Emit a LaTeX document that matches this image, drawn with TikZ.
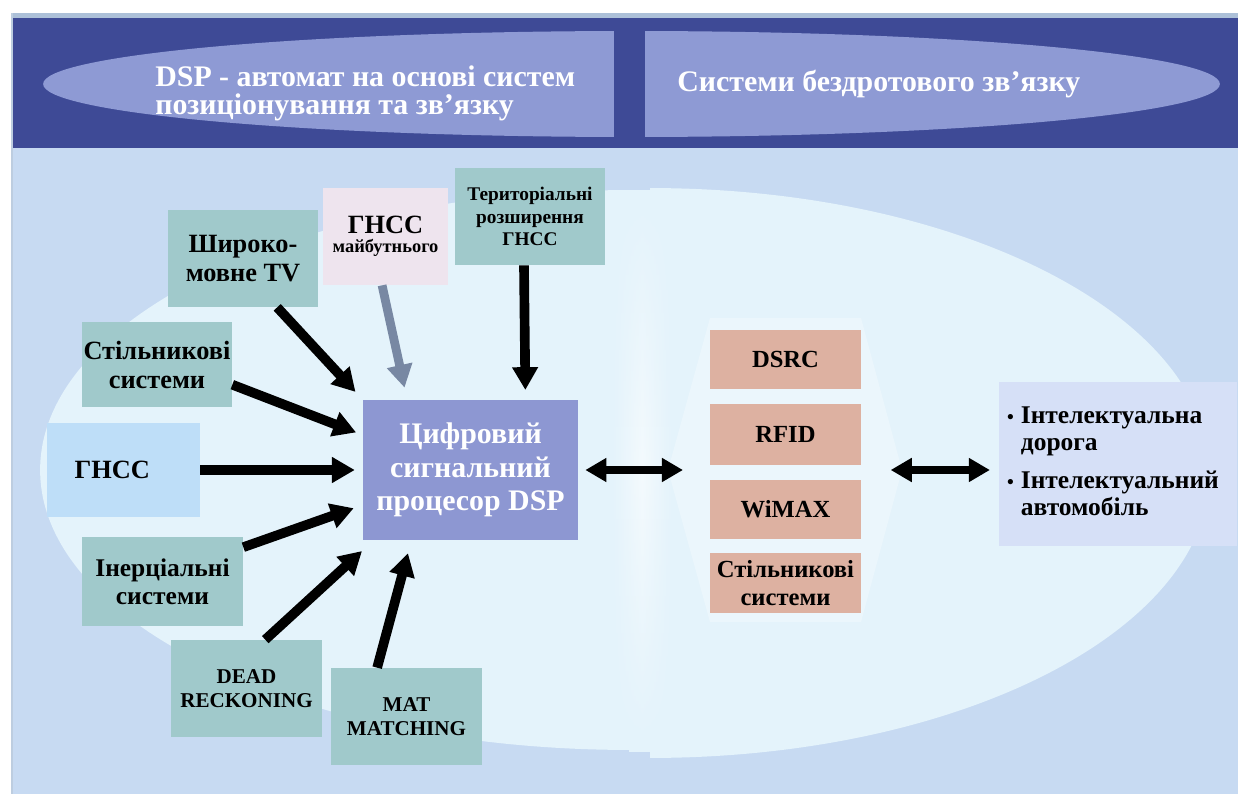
\documentclass[tikz,border=0pt]{standalone}
\usepackage{fontspec}
\setmainfont{Liberation Serif}
\usetikzlibrary{arrows.meta,fit,fadings}

\definecolor{band}{RGB}{62,74,150}
\definecolor{bandoval}{RGB}{142,154,212}
\definecolor{topline}{RGB}{172,192,216}
\definecolor{field}{RGB}{199,218,242}
\definecolor{glow}{RGB}{228,243,251}
\definecolor{tealfill}{RGB}{160,201,203}
\definecolor{pinkfill}{RGB}{238,228,238}
\definecolor{skyfill}{RGB}{190,222,248}
\definecolor{dspfill}{RGB}{141,151,210}
\definecolor{salmonfill}{RGB}{221,177,161}
\definecolor{lilacfill}{RGB}{214,224,247}
\definecolor{greyarrow}{RGB}{120,136,163}

\tikzfading[name=fadeends, top color=transparent!100, bottom color=transparent!100, middle color=transparent!0]

\newcommand\setfs[2]{\fontsize{#1}{#2}\selectfont\bfseries}
\newcommand\apos{\symbol{"02BC}}

\begin{document}
\begin{tikzpicture}[x=0.02cm, y=-0.02cm,
  box/.style={inner sep=0pt, align=center},
  tealnode/.style={box, fill=tealfill, minimum width=3cm, minimum height=1.94cm},
  stacknode/.style={box, fill=salmonfill, minimum width=3.02cm, font=\setfs{14}{15.5}},
  arr/.style={line width=5.5pt, -{Triangle[length=13pt,width=14pt]}},
  dblarr/.style={line width=4.5pt, {Triangle[length=12pt,width=13pt]}-{Triangle[length=12pt,width=13pt]}}
]
\useasboundingbox (0,0) rectangle (1238,794);
\fill[white] (0,0) rectangle (1238,794);

% field and frame
\fill[field] (11,13) rectangle (1238,794);
\fill[topline] (11,13) rectangle (1238,18);
\fill[topline!80!white] (11,13) rectangle (13,794);

% pale glow behind the two halves
\begin{scope}
  \clip (13,150) rectangle (630,794);
  \fill[glow] (630,470) ellipse [x radius=11.8cm, y radius=5.6cm];
\end{scope}
\begin{scope}
  \clip (650,150) rectangle (1238,794);
  \fill[glow] (650,473) ellipse [x radius=11.2cm, y radius=5.7cm];
\end{scope}
\fill[glow] (629,190) rectangle (651,752);
\shade[left color=glow, right color=glow, middle color=white, opacity=0.6, path fading=fadeends] (612,200) rectangle (672,745);
\fill[white, opacity=0.28] (710,318) -- (861,318) -- (902,470) -- (861,622) -- (710,622) -- (668,470) -- cycle;

% header band
\fill[band] (13,18) rectangle (1238,148);
\fill[bandoval] (631.5,84) ellipse [x radius=11.77cm, y radius=1.06cm];
\fill[band] (614,18) rectangle (645,148);
\node[anchor=west, align=left, text=white, inner sep=0pt, font=\setfs{17}{15.8}] (htitle) at (155,93)
  {DSP - автомат на основі систем\\позиціонування та зв\apos язку};
\node[anchor=west, text=white, inner sep=0pt, font=\setfs{17}{15.5}] (hwireless) at (677,84)
  {Системи бездротового зв\apos язку};

% sources
\node[tealnode, font=\setfs{15}{16.5}] (tv) at (243,258.5) {Широко-\\мовне TV};
\node[tealnode, minimum height=1.7cm, font=\setfs{15}{16.5}] (cell) at (157,364.5) {Стільникові\\системи};
\node[box, fill=pinkfill, minimum width=2.5cm, minimum height=1.94cm] (gnssf) at (385.5,236.5)
  {\setfs{15}{16}ГНСС\\[-1pt]\setfs{10.5}{12}майбутнього};
\node[tealnode, font=\setfs{11}{13}] (terr) at (530,216.5) {Територіальні\\розширення\\ГНСС};
\node[box, fill=skyfill, minimum width=3.06cm, minimum height=1.88cm, font=\setfs{15}{16.5}] (gnss) at (123.5,470) {ГНСС\hspace*{0.45cm}};
\node[tealnode, minimum width=3.22cm, minimum height=1.78cm, font=\setfs{14.5}{16}] (iner) at (162.5,581.5) {Інерціальні\\системи};
\node[tealnode, minimum width=3.02cm, font=\setfs{12}{13.5}] (dead) at (246.5,688.5) {DEAD\\RECKONING};
\node[tealnode, minimum width=3.02cm, font=\setfs{12}{13.5}] (mat) at (406.5,716.5) {MAT\\MATCHING};

% processor
\node[box, fill=dspfill, text=white, minimum width=4.3cm, minimum height=2.8cm, font=\setfs{17}{19}] (dsp) at (470.5,470)
  {Цифровий\\сигнальний\\процесор DSP};

% wireless systems
\node[stacknode, minimum height=1.18cm] (dsrc) at (785.5,359.5) {DSRC};
\node[stacknode, minimum height=1.22cm] (rfid) at (785.5,434.5) {RFID};
\node[stacknode, minimum height=1.18cm] (wimax) at (785.5,509.5) {WiMAX};
\node[stacknode, minimum height=1.2cm] (cell2) at (785.5,583) {Стільникові\\системи};
\node[fit=(dsrc)(cell2), inner sep=0pt] (stack) {};

% applications
\node[box, fill=lilacfill, minimum width=4.76cm, minimum height=3.28cm, font=\setfs{14.5}{15.5}] (intel) at (1118,464)
  {\begin{tabular}{@{}l@{\hspace{4pt}}l@{}}
   {\fontsize{11}{10}\selectfont•} & Інтелектуальна\\
   & дорога\\[6pt]
   {\fontsize{11}{10}\selectfont•} & Інтелектуальний\\
   & автомобіль
   \end{tabular}\hspace*{0.2cm}};

% connectors
\draw[arr] (tv.-55) -- (dsp.north west) [shorten >=6pt];
\draw[arr, greyarrow, line width=5pt] (gnssf.-94) -- (dsp.132) [shorten >=7pt];
\draw[arr] (terr.-97) -- (dsp.52.6) [shorten >=5.5pt];
\draw[arr] (cell.-15.3) -- (dsp.162) [shorten >=4pt];
\draw[arr] (gnss.east) -- (dsp.west) [shorten >=4.5pt];
\draw[arr] (iner.23.2) -- (dsp.-162) [shorten >=5.4pt];
\draw[arr] (dead.69.1) -- (dsp.-144.9) [shorten >=9pt];
\draw[arr] (mat.121.3) -- (dsp.-130.8) [shorten >=7.6pt];
\draw[dblarr, shorten <=4pt, shorten >=15pt] (dsp.east) -- (dsp.east -| stack.west);
\draw[dblarr, shorten <=16.5pt, shorten >=5pt] (dsp.east -| stack.east) -- (dsp.east -| intel.west);
\end{tikzpicture}
\end{document}
